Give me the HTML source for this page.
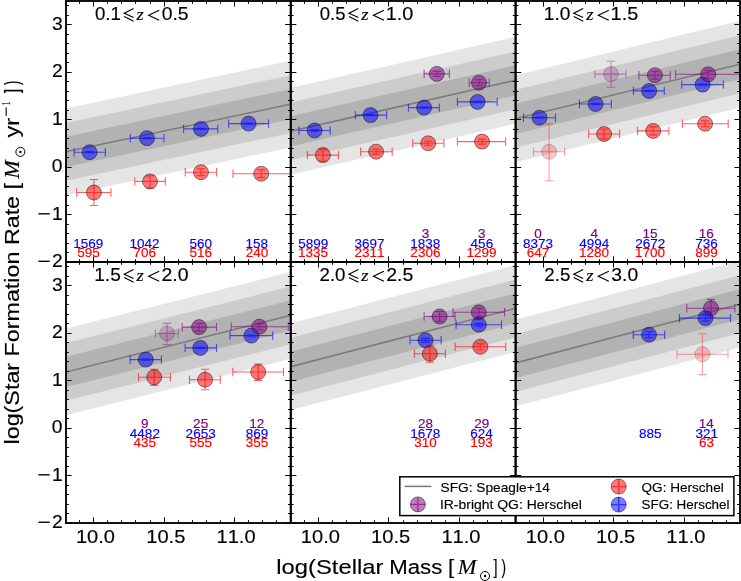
<!DOCTYPE html>
<html><head><meta charset="utf-8"><style>
html,body{margin:0;padding:0;background:#fff;width:741px;height:581px;overflow:hidden}
svg{display:block;font-kerning:none;will-change:transform}
</style></head><body>
<svg width="741" height="581" viewBox="0 0 741 581">
<rect width="741" height="581" fill="#fff"/>
<defs>
<clipPath id="cp00"><rect x="66.00" y="1.00" width="224.75" height="261.00"/></clipPath>
<clipPath id="cp01"><rect x="290.75" y="1.00" width="224.85" height="261.00"/></clipPath>
<clipPath id="cp02"><rect x="515.60" y="1.00" width="224.40" height="261.00"/></clipPath>
<clipPath id="cp10"><rect x="66.00" y="262.00" width="224.75" height="261.00"/></clipPath>
<clipPath id="cp11"><rect x="290.75" y="262.00" width="224.85" height="261.00"/></clipPath>
<clipPath id="cp12"><rect x="515.60" y="262.00" width="224.40" height="261.00"/></clipPath>
</defs>
<g clip-path="url(#cp00)">
<polygon points="63.00,109.04 293.75,60.06 293.75,146.86 63.00,195.84" fill="rgb(229,229,229)"/>
<polygon points="63.00,123.54 293.75,74.56 293.75,132.36 63.00,181.34" fill="rgb(204,204,204)"/>
<polygon points="63.00,137.34 293.75,88.36 293.75,118.56 63.00,167.54" fill="rgb(178,178,178)"/>
<line x1="63.00" y1="152.44" x2="293.75" y2="103.46" stroke="#7a7a7a" stroke-width="1.5"/>
<path d="M74.10 152.20H105.30M89.60 151.60V152.80M74.10 148.00V156.40M105.30 148.00V156.40M85.40 151.60H93.80M85.40 152.80H93.80" stroke="rgb(0,0,255)" stroke-width="1.10" fill="none" opacity="0.620"/><circle cx="89.60" cy="152.20" r="7.50" fill="rgb(0,0,255)" fill-opacity="0.530" stroke="#000" stroke-width="1.0" stroke-opacity="0.451"/>
<path d="M130.30 138.20H164.00M147.00 137.60V138.80M130.30 134.00V142.40M164.00 134.00V142.40M142.80 137.60H151.20M142.80 138.80H151.20" stroke="rgb(0,0,255)" stroke-width="1.10" fill="none" opacity="0.620"/><circle cx="147.00" cy="138.20" r="7.50" fill="rgb(0,0,255)" fill-opacity="0.530" stroke="#000" stroke-width="1.0" stroke-opacity="0.451"/>
<path d="M183.60 128.90H217.80M201.00 128.30V129.50M183.60 124.70V133.10M217.80 124.70V133.10M196.80 128.30H205.20M196.80 129.50H205.20" stroke="rgb(0,0,255)" stroke-width="1.10" fill="none" opacity="0.620"/><circle cx="201.00" cy="128.90" r="7.50" fill="rgb(0,0,255)" fill-opacity="0.530" stroke="#000" stroke-width="1.0" stroke-opacity="0.451"/>
<path d="M228.70 123.60H268.60M248.60 123.00V124.20M228.70 119.40V127.80M268.60 119.40V127.80M244.40 123.00H252.80M244.40 124.20H252.80" stroke="rgb(0,0,255)" stroke-width="1.10" fill="none" opacity="0.620"/><circle cx="248.60" cy="123.60" r="7.50" fill="rgb(0,0,255)" fill-opacity="0.530" stroke="#000" stroke-width="1.0" stroke-opacity="0.451"/>
<path d="M76.70 192.50H110.90M93.90 179.50V205.50M76.70 188.30V196.70M110.90 188.30V196.70M89.70 179.50H98.10M89.70 205.50H98.10" stroke="rgb(255,0,0)" stroke-width="1.10" fill="none" opacity="0.620"/><circle cx="93.90" cy="192.50" r="7.50" fill="rgb(255,0,0)" fill-opacity="0.530" stroke="#000" stroke-width="1.0" stroke-opacity="0.451"/>
<path d="M134.70 181.40H165.30M150.00 175.70V188.00M134.70 177.20V185.60M165.30 177.20V185.60M145.80 175.70H154.20M145.80 188.00H154.20" stroke="rgb(255,0,0)" stroke-width="1.10" fill="none" opacity="0.620"/><circle cx="150.00" cy="181.40" r="7.50" fill="rgb(255,0,0)" fill-opacity="0.530" stroke="#000" stroke-width="1.0" stroke-opacity="0.451"/>
<path d="M185.30 172.20H216.60M201.00 168.80V175.60M185.30 168.00V176.40M216.60 168.00V176.40M196.80 168.80H205.20M196.80 175.60H205.20" stroke="rgb(255,0,0)" stroke-width="1.10" fill="none" opacity="0.620"/><circle cx="201.00" cy="172.20" r="7.50" fill="rgb(255,0,0)" fill-opacity="0.530" stroke="#000" stroke-width="1.0" stroke-opacity="0.451"/>
<path d="M233.00 173.70H293.00M261.20 169.80V177.60M233.00 169.50V177.90M293.00 169.50V177.90M257.00 169.80H265.40M257.00 177.60H265.40" stroke="rgb(255,0,0)" stroke-width="1.10" fill="none" opacity="0.620"/><circle cx="261.20" cy="173.70" r="7.50" fill="rgb(255,0,0)" fill-opacity="0.530" stroke="#000" stroke-width="1.0" stroke-opacity="0.451"/>
</g>
<g clip-path="url(#cp01)">
<polygon points="287.75,88.48 518.50,36.22 518.50,123.02 287.75,175.28" fill="rgb(229,229,229)"/>
<polygon points="287.75,102.98 518.50,50.72 518.50,108.52 287.75,160.78" fill="rgb(204,204,204)"/>
<polygon points="287.75,116.78 518.50,64.52 518.50,94.72 287.75,146.98" fill="rgb(178,178,178)"/>
<line x1="287.75" y1="131.88" x2="518.50" y2="79.62" stroke="#7a7a7a" stroke-width="1.5"/>
<path d="M298.90 130.50H330.20M314.60 129.90V131.10M298.90 126.30V134.70M330.20 126.30V134.70M310.40 129.90H318.80M310.40 131.10H318.80" stroke="rgb(0,0,255)" stroke-width="1.10" fill="none" opacity="0.620"/><circle cx="314.60" cy="130.50" r="7.50" fill="rgb(0,0,255)" fill-opacity="0.530" stroke="#000" stroke-width="1.0" stroke-opacity="0.451"/>
<path d="M355.30 115.10H386.60M370.50 114.50V115.70M355.30 110.90V119.30M386.60 110.90V119.30M366.30 114.50H374.70M366.30 115.70H374.70" stroke="rgb(0,0,255)" stroke-width="1.10" fill="none" opacity="0.620"/><circle cx="370.50" cy="115.10" r="7.50" fill="rgb(0,0,255)" fill-opacity="0.530" stroke="#000" stroke-width="1.0" stroke-opacity="0.451"/>
<path d="M408.40 107.60H439.30M424.10 107.00V108.20M408.40 103.40V111.80M439.30 103.40V111.80M419.90 107.00H428.30M419.90 108.20H428.30" stroke="rgb(0,0,255)" stroke-width="1.10" fill="none" opacity="0.620"/><circle cx="424.10" cy="107.60" r="7.50" fill="rgb(0,0,255)" fill-opacity="0.530" stroke="#000" stroke-width="1.0" stroke-opacity="0.451"/>
<path d="M457.40 101.90H497.20M477.60 101.30V102.50M457.40 97.70V106.10M497.20 97.70V106.10M473.40 101.30H481.80M473.40 102.50H481.80" stroke="rgb(0,0,255)" stroke-width="1.10" fill="none" opacity="0.620"/><circle cx="477.60" cy="101.90" r="7.50" fill="rgb(0,0,255)" fill-opacity="0.530" stroke="#000" stroke-width="1.0" stroke-opacity="0.451"/>
<path d="M307.40 155.10H338.50M322.90 149.10V161.10M307.40 150.90V159.30M338.50 150.90V159.30M318.70 149.10H327.10M318.70 161.10H327.10" stroke="rgb(255,0,0)" stroke-width="1.10" fill="none" opacity="0.620"/><circle cx="322.90" cy="155.10" r="7.50" fill="rgb(255,0,0)" fill-opacity="0.530" stroke="#000" stroke-width="1.0" stroke-opacity="0.451"/>
<path d="M360.60 151.70H392.20M376.10 149.20V154.20M360.60 147.50V155.90M392.20 147.50V155.90M371.90 149.20H380.30M371.90 154.20H380.30" stroke="rgb(255,0,0)" stroke-width="1.10" fill="none" opacity="0.620"/><circle cx="376.10" cy="151.70" r="7.50" fill="rgb(255,0,0)" fill-opacity="0.530" stroke="#000" stroke-width="1.0" stroke-opacity="0.451"/>
<path d="M412.80 143.30H443.90M428.20 141.30V145.30M412.80 139.10V147.50M443.90 139.10V147.50M424.00 141.30H432.40M424.00 145.30H432.40" stroke="rgb(255,0,0)" stroke-width="1.10" fill="none" opacity="0.620"/><circle cx="428.20" cy="143.30" r="7.50" fill="rgb(255,0,0)" fill-opacity="0.530" stroke="#000" stroke-width="1.0" stroke-opacity="0.451"/>
<path d="M457.40 141.60H505.60M482.00 139.10V144.10M457.40 137.40V145.80M505.60 137.40V145.80M477.80 139.10H486.20M477.80 144.10H486.20" stroke="rgb(255,0,0)" stroke-width="1.10" fill="none" opacity="0.620"/><circle cx="482.00" cy="141.60" r="7.50" fill="rgb(255,0,0)" fill-opacity="0.530" stroke="#000" stroke-width="1.0" stroke-opacity="0.451"/>
<path d="M424.10 73.90H449.40M436.80 71.40V76.40M424.10 69.70V78.10M449.40 69.70V78.10M432.60 71.40H441.00M432.60 76.40H441.00" stroke="rgb(128,0,128)" stroke-width="1.10" fill="none" opacity="0.620"/><circle cx="436.80" cy="73.90" r="7.50" fill="rgb(128,0,128)" fill-opacity="0.530" stroke="#000" stroke-width="1.0" stroke-opacity="0.451"/>
<path d="M469.20 82.70H489.20M479.00 79.70V85.70M469.20 78.50V86.90M489.20 78.50V86.90M474.80 79.70H483.20M474.80 85.70H483.20" stroke="rgb(128,0,128)" stroke-width="1.10" fill="none" opacity="0.620"/><circle cx="479.00" cy="82.70" r="7.50" fill="rgb(128,0,128)" fill-opacity="0.530" stroke="#000" stroke-width="1.0" stroke-opacity="0.451"/>
</g>
<g clip-path="url(#cp02)">
<polygon points="512.50,76.03 743.25,20.07 743.25,106.87 512.50,162.83" fill="rgb(229,229,229)"/>
<polygon points="512.50,90.53 743.25,34.57 743.25,92.37 512.50,148.33" fill="rgb(204,204,204)"/>
<polygon points="512.50,104.33 743.25,48.37 743.25,78.57 512.50,134.53" fill="rgb(178,178,178)"/>
<line x1="512.50" y1="119.43" x2="743.25" y2="63.47" stroke="#7a7a7a" stroke-width="1.5"/>
<path d="M523.50 117.70H555.50M539.50 117.10V118.30M523.50 113.50V121.90M555.50 113.50V121.90M535.30 117.10H543.70M535.30 118.30H543.70" stroke="rgb(0,0,255)" stroke-width="1.10" fill="none" opacity="0.620"/><circle cx="539.50" cy="117.70" r="7.50" fill="rgb(0,0,255)" fill-opacity="0.530" stroke="#000" stroke-width="1.0" stroke-opacity="0.451"/>
<path d="M579.50 104.00H611.30M595.60 103.40V104.60M579.50 99.80V108.20M611.30 99.80V108.20M591.40 103.40H599.80M591.40 104.60H599.80" stroke="rgb(0,0,255)" stroke-width="1.10" fill="none" opacity="0.620"/><circle cx="595.60" cy="104.00" r="7.50" fill="rgb(0,0,255)" fill-opacity="0.530" stroke="#000" stroke-width="1.0" stroke-opacity="0.451"/>
<path d="M633.40 90.90H664.30M649.10 90.30V91.50M633.40 86.70V95.10M664.30 86.70V95.10M644.90 90.30H653.30M644.90 91.50H653.30" stroke="rgb(0,0,255)" stroke-width="1.10" fill="none" opacity="0.620"/><circle cx="649.10" cy="90.90" r="7.50" fill="rgb(0,0,255)" fill-opacity="0.530" stroke="#000" stroke-width="1.0" stroke-opacity="0.451"/>
<path d="M681.70 84.60H723.40M702.60 84.00V85.20M681.70 80.40V88.80M723.40 80.40V88.80M698.40 84.00H706.80M698.40 85.20H706.80" stroke="rgb(0,0,255)" stroke-width="1.10" fill="none" opacity="0.620"/><circle cx="702.60" cy="84.60" r="7.50" fill="rgb(0,0,255)" fill-opacity="0.530" stroke="#000" stroke-width="1.0" stroke-opacity="0.451"/>
<path d="M533.60 151.80H564.60M549.10 123.90V180.70M533.60 147.60V156.00M564.60 147.60V156.00M544.90 123.90H553.30M544.90 180.70H553.30" stroke="rgb(255,0,0)" stroke-width="1.10" fill="none" opacity="0.380"/><circle cx="549.10" cy="151.80" r="7.50" fill="rgb(255,0,0)" fill-opacity="0.220" stroke="#000" stroke-width="1.0" stroke-opacity="0.187"/>
<path d="M588.60 134.00H619.60M604.10 129.00V139.00M588.60 129.80V138.20M619.60 129.80V138.20M599.90 129.00H608.30M599.90 139.00H608.30" stroke="rgb(255,0,0)" stroke-width="1.10" fill="none" opacity="0.620"/><circle cx="604.10" cy="134.00" r="7.50" fill="rgb(255,0,0)" fill-opacity="0.530" stroke="#000" stroke-width="1.0" stroke-opacity="0.451"/>
<path d="M637.50 130.90H668.90M653.20 126.90V134.90M637.50 126.70V135.10M668.90 126.70V135.10M649.00 126.90H657.40M649.00 134.90H657.40" stroke="rgb(255,0,0)" stroke-width="1.10" fill="none" opacity="0.620"/><circle cx="653.20" cy="130.90" r="7.50" fill="rgb(255,0,0)" fill-opacity="0.530" stroke="#000" stroke-width="1.0" stroke-opacity="0.451"/>
<path d="M682.40 123.70H728.20M705.10 120.70V126.70M682.40 119.50V127.90M728.20 119.50V127.90M700.90 120.70H709.30M700.90 126.70H709.30" stroke="rgb(255,0,0)" stroke-width="1.10" fill="none" opacity="0.620"/><circle cx="705.10" cy="123.70" r="7.50" fill="rgb(255,0,0)" fill-opacity="0.530" stroke="#000" stroke-width="1.0" stroke-opacity="0.451"/>
<path d="M595.00 74.10H626.00M611.00 61.20V87.20M595.00 69.90V78.30M626.00 69.90V78.30M606.80 61.20H615.20M606.80 87.20H615.20" stroke="rgb(128,0,128)" stroke-width="1.10" fill="none" opacity="0.380"/><circle cx="611.00" cy="74.10" r="7.50" fill="rgb(128,0,128)" fill-opacity="0.220" stroke="#000" stroke-width="1.0" stroke-opacity="0.187"/>
<path d="M639.00 75.20H670.30M654.90 71.20V79.20M639.00 71.00V79.40M670.30 71.00V79.40M650.70 71.20H659.10M650.70 79.20H659.10" stroke="rgb(128,0,128)" stroke-width="1.10" fill="none" opacity="0.620"/><circle cx="654.90" cy="75.20" r="7.50" fill="rgb(128,0,128)" fill-opacity="0.530" stroke="#000" stroke-width="1.0" stroke-opacity="0.451"/>
<path d="M675.60 74.30H745.00M708.20 70.30V78.30M675.60 70.10V78.50M745.00 70.10V78.50M704.00 70.30H712.40M704.00 78.30H712.40" stroke="rgb(128,0,128)" stroke-width="1.10" fill="none" opacity="0.620"/><circle cx="708.20" cy="74.30" r="7.50" fill="rgb(128,0,128)" fill-opacity="0.530" stroke="#000" stroke-width="1.0" stroke-opacity="0.451"/>
</g>
<g clip-path="url(#cp10)">
<polygon points="63.00,329.26 293.75,271.14 293.75,357.94 63.00,416.06" fill="rgb(229,229,229)"/>
<polygon points="63.00,343.76 293.75,285.64 293.75,343.44 63.00,401.56" fill="rgb(204,204,204)"/>
<polygon points="63.00,357.56 293.75,299.44 293.75,329.64 63.00,387.76" fill="rgb(178,178,178)"/>
<line x1="63.00" y1="372.66" x2="293.75" y2="314.54" stroke="#7a7a7a" stroke-width="1.5"/>
<path d="M130.10 359.60H161.40M145.80 359.00V360.20M130.10 355.40V363.80M161.40 355.40V363.80M141.60 359.00H150.00M141.60 360.20H150.00" stroke="rgb(0,0,255)" stroke-width="1.10" fill="none" opacity="0.620"/><circle cx="145.80" cy="359.60" r="7.50" fill="rgb(0,0,255)" fill-opacity="0.530" stroke="#000" stroke-width="1.0" stroke-opacity="0.451"/>
<path d="M185.10 347.90H216.50M200.30 347.30V348.50M185.10 343.70V352.10M216.50 343.70V352.10M196.10 347.30H204.50M196.10 348.50H204.50" stroke="rgb(0,0,255)" stroke-width="1.10" fill="none" opacity="0.620"/><circle cx="200.30" cy="347.90" r="7.50" fill="rgb(0,0,255)" fill-opacity="0.530" stroke="#000" stroke-width="1.0" stroke-opacity="0.451"/>
<path d="M230.00 335.60H272.70M251.40 335.00V336.20M230.00 331.40V339.80M272.70 331.40V339.80M247.20 335.00H255.60M247.20 336.20H255.60" stroke="rgb(0,0,255)" stroke-width="1.10" fill="none" opacity="0.620"/><circle cx="251.40" cy="335.60" r="7.50" fill="rgb(0,0,255)" fill-opacity="0.530" stroke="#000" stroke-width="1.0" stroke-opacity="0.451"/>
<path d="M138.50 377.20H170.40M154.20 369.20V385.40M138.50 373.00V381.40M170.40 373.00V381.40M150.00 369.20H158.40M150.00 385.40H158.40" stroke="rgb(255,0,0)" stroke-width="1.10" fill="none" opacity="0.620"/><circle cx="154.20" cy="377.20" r="7.50" fill="rgb(255,0,0)" fill-opacity="0.530" stroke="#000" stroke-width="1.0" stroke-opacity="0.451"/>
<path d="M189.50 379.70H220.30M205.10 369.30V389.80M189.50 375.50V383.90M220.30 375.50V383.90M200.90 369.30H209.30M200.90 389.80H209.30" stroke="rgb(255,0,0)" stroke-width="1.10" fill="none" opacity="0.620"/><circle cx="205.10" cy="379.70" r="7.50" fill="rgb(255,0,0)" fill-opacity="0.530" stroke="#000" stroke-width="1.0" stroke-opacity="0.451"/>
<path d="M232.90 372.00H283.50M258.20 364.00V380.40M232.90 367.80V376.20M283.50 367.80V376.20M254.00 364.00H262.40M254.00 380.40H262.40" stroke="rgb(255,0,0)" stroke-width="1.10" fill="none" opacity="0.620"/><circle cx="258.20" cy="372.00" r="7.50" fill="rgb(255,0,0)" fill-opacity="0.530" stroke="#000" stroke-width="1.0" stroke-opacity="0.451"/>
<path d="M155.40 333.50H178.30M167.00 323.40V344.60M155.40 329.30V337.70M178.30 329.30V337.70M162.80 323.40H171.20M162.80 344.60H171.20" stroke="rgb(128,0,128)" stroke-width="1.10" fill="none" opacity="0.380"/><circle cx="167.00" cy="333.50" r="7.50" fill="rgb(128,0,128)" fill-opacity="0.220" stroke="#000" stroke-width="1.0" stroke-opacity="0.187"/>
<path d="M182.20 327.10H216.50M199.10 323.10V331.10M182.20 322.90V331.30M216.50 322.90V331.30M194.90 323.10H203.30M194.90 331.10H203.30" stroke="rgb(128,0,128)" stroke-width="1.10" fill="none" opacity="0.620"/><circle cx="199.10" cy="327.10" r="7.50" fill="rgb(128,0,128)" fill-opacity="0.530" stroke="#000" stroke-width="1.0" stroke-opacity="0.451"/>
<path d="M231.20 326.70H288.30M259.40 323.70V329.70M231.20 322.50V330.90M288.30 322.50V330.90M255.20 323.70H263.60M255.20 329.70H263.60" stroke="rgb(128,0,128)" stroke-width="1.10" fill="none" opacity="0.620"/><circle cx="259.40" cy="326.70" r="7.50" fill="rgb(128,0,128)" fill-opacity="0.530" stroke="#000" stroke-width="1.0" stroke-opacity="0.451"/>
</g>
<g clip-path="url(#cp11)">
<polygon points="287.75,324.08 518.50,264.22 518.50,351.02 287.75,410.88" fill="rgb(229,229,229)"/>
<polygon points="287.75,338.58 518.50,278.72 518.50,336.52 287.75,396.38" fill="rgb(204,204,204)"/>
<polygon points="287.75,352.38 518.50,292.52 518.50,322.72 287.75,382.58" fill="rgb(178,178,178)"/>
<line x1="287.75" y1="367.48" x2="518.50" y2="307.62" stroke="#7a7a7a" stroke-width="1.5"/>
<path d="M424.10 316.50H455.10M439.60 311.50V321.50M424.10 312.30V320.70M455.10 312.30V320.70M435.40 311.50H443.80M435.40 321.50H443.80" stroke="rgb(128,0,128)" stroke-width="1.10" fill="none" opacity="0.620"/><circle cx="439.60" cy="316.50" r="7.50" fill="rgb(128,0,128)" fill-opacity="0.530" stroke="#000" stroke-width="1.0" stroke-opacity="0.451"/>
<path d="M453.00 312.30H504.60M478.80 308.30V316.30M453.00 308.10V316.50M504.60 308.10V316.50M474.60 308.30H483.00M474.60 316.30H483.00" stroke="rgb(128,0,128)" stroke-width="1.10" fill="none" opacity="0.620"/><circle cx="478.80" cy="312.30" r="7.50" fill="rgb(128,0,128)" fill-opacity="0.530" stroke="#000" stroke-width="1.0" stroke-opacity="0.451"/>
<path d="M410.00 340.20H441.20M425.50 338.20V342.20M410.00 336.00V344.40M441.20 336.00V344.40M421.30 338.20H429.70M421.30 342.20H429.70" stroke="rgb(0,0,255)" stroke-width="1.10" fill="none" opacity="0.620"/><circle cx="425.50" cy="340.20" r="7.50" fill="rgb(0,0,255)" fill-opacity="0.530" stroke="#000" stroke-width="1.0" stroke-opacity="0.451"/>
<path d="M456.10 324.70H501.50M478.80 323.20V326.20M456.10 320.50V328.90M501.50 320.50V328.90M474.60 323.20H483.00M474.60 326.20H483.00" stroke="rgb(0,0,255)" stroke-width="1.10" fill="none" opacity="0.620"/><circle cx="478.80" cy="324.70" r="7.50" fill="rgb(0,0,255)" fill-opacity="0.530" stroke="#000" stroke-width="1.0" stroke-opacity="0.451"/>
<path d="M414.40 353.70H445.40M429.90 345.40V362.30M414.40 349.50V357.90M445.40 349.50V357.90M425.70 345.40H434.10M425.70 362.30H434.10" stroke="rgb(255,0,0)" stroke-width="1.10" fill="none" opacity="0.620"/><circle cx="429.90" cy="353.70" r="7.50" fill="rgb(255,0,0)" fill-opacity="0.530" stroke="#000" stroke-width="1.0" stroke-opacity="0.451"/>
<path d="M455.10 346.80H505.70M480.30 343.80V349.80M455.10 342.60V351.00M505.70 342.60V351.00M476.10 343.80H484.50M476.10 349.80H484.50" stroke="rgb(255,0,0)" stroke-width="1.10" fill="none" opacity="0.620"/><circle cx="480.30" cy="346.80" r="7.50" fill="rgb(255,0,0)" fill-opacity="0.530" stroke="#000" stroke-width="1.0" stroke-opacity="0.451"/>
</g>
<g clip-path="url(#cp12)">
<polygon points="512.50,320.39 743.25,259.91 743.25,346.71 512.50,407.19" fill="rgb(229,229,229)"/>
<polygon points="512.50,334.89 743.25,274.41 743.25,332.21 512.50,392.69" fill="rgb(204,204,204)"/>
<polygon points="512.50,348.69 743.25,288.21 743.25,318.41 512.50,378.89" fill="rgb(178,178,178)"/>
<line x1="512.50" y1="363.79" x2="743.25" y2="303.31" stroke="#7a7a7a" stroke-width="1.5"/>
<path d="M686.80 308.20H734.90M711.00 299.40V317.00M686.80 304.00V312.40M734.90 304.00V312.40M706.80 299.40H715.20M706.80 317.00H715.20" stroke="rgb(128,0,128)" stroke-width="1.10" fill="none" opacity="0.620"/><circle cx="711.00" cy="308.20" r="7.50" fill="rgb(128,0,128)" fill-opacity="0.530" stroke="#000" stroke-width="1.0" stroke-opacity="0.451"/>
<path d="M633.20 334.70H664.70M649.00 331.70V337.70M633.20 330.50V338.90M664.70 330.50V338.90M644.80 331.70H653.20M644.80 337.70H653.20" stroke="rgb(0,0,255)" stroke-width="1.10" fill="none" opacity="0.620"/><circle cx="649.00" cy="334.70" r="7.50" fill="rgb(0,0,255)" fill-opacity="0.530" stroke="#000" stroke-width="1.0" stroke-opacity="0.451"/>
<path d="M679.40 318.10H730.50M705.40 315.10V321.10M679.40 313.90V322.30M730.50 313.90V322.30M701.20 315.10H709.60M701.20 321.10H709.60" stroke="rgb(0,0,255)" stroke-width="1.10" fill="none" opacity="0.620"/><circle cx="705.40" cy="318.10" r="7.50" fill="rgb(0,0,255)" fill-opacity="0.530" stroke="#000" stroke-width="1.0" stroke-opacity="0.451"/>
<path d="M677.00 354.20H728.00M702.40 333.70V374.60M677.00 350.00V358.40M728.00 350.00V358.40M698.20 333.70H706.60M698.20 374.60H706.60" stroke="rgb(255,0,0)" stroke-width="1.10" fill="none" opacity="0.380"/><circle cx="702.40" cy="354.20" r="7.50" fill="rgb(255,0,0)" fill-opacity="0.220" stroke="#000" stroke-width="1.0" stroke-opacity="0.187"/>
</g>
<path d="M66.00 262.50h5.60M290.75 262.50h-5.60M66.00 252.50h2.80M290.75 252.50h-2.80M66.00 243.50h2.80M290.75 243.50h-2.80M66.00 233.50h2.80M290.75 233.50h-2.80M66.00 224.50h2.80M290.75 224.50h-2.80M66.00 214.50h5.60M290.75 214.50h-5.60M66.00 205.50h2.80M290.75 205.50h-2.80M66.00 195.50h2.80M290.75 195.50h-2.80M66.00 186.50h2.80M290.75 186.50h-2.80M66.00 176.50h2.80M290.75 176.50h-2.80M66.00 167.50h5.60M290.75 167.50h-5.60M66.00 157.50h2.80M290.75 157.50h-2.80M66.00 148.50h2.80M290.75 148.50h-2.80M66.00 138.50h2.80M290.75 138.50h-2.80M66.00 129.50h2.80M290.75 129.50h-2.80M66.00 119.50h5.60M290.75 119.50h-5.60M66.00 110.50h2.80M290.75 110.50h-2.80M66.00 100.50h2.80M290.75 100.50h-2.80M66.00 91.50h2.80M290.75 91.50h-2.80M66.00 81.50h2.80M290.75 81.50h-2.80M66.00 72.50h5.60M290.75 72.50h-5.60M66.00 62.50h2.80M290.75 62.50h-2.80M66.00 53.50h2.80M290.75 53.50h-2.80M66.00 43.50h2.80M290.75 43.50h-2.80M66.00 34.50h2.80M290.75 34.50h-2.80M66.00 24.50h5.60M290.75 24.50h-5.60M66.00 15.50h2.80M290.75 15.50h-2.80M66.00 5.50h2.80M290.75 5.50h-2.80M65.50 1.00v2.80M65.50 262.00v-2.80M79.50 1.00v2.80M79.50 262.00v-2.80M93.50 1.00v5.60M93.50 262.00v-5.60M107.50 1.00v2.80M107.50 262.00v-2.80M121.50 1.00v2.80M121.50 262.00v-2.80M135.50 1.00v2.80M135.50 262.00v-2.80M150.50 1.00v2.80M150.50 262.00v-2.80M164.50 1.00v5.60M164.50 262.00v-5.60M178.50 1.00v2.80M178.50 262.00v-2.80M192.50 1.00v2.80M192.50 262.00v-2.80M206.50 1.00v2.80M206.50 262.00v-2.80M220.50 1.00v2.80M220.50 262.00v-2.80M234.50 1.00v5.60M234.50 262.00v-5.60M248.50 1.00v2.80M248.50 262.00v-2.80M262.50 1.00v2.80M262.50 262.00v-2.80M276.50 1.00v2.80M276.50 262.00v-2.80M290.50 1.00v2.80M290.50 262.00v-2.80M290.75 262.50h5.60M515.60 262.50h-5.60M290.75 252.50h2.80M515.60 252.50h-2.80M290.75 243.50h2.80M515.60 243.50h-2.80M290.75 233.50h2.80M515.60 233.50h-2.80M290.75 224.50h2.80M515.60 224.50h-2.80M290.75 214.50h5.60M515.60 214.50h-5.60M290.75 205.50h2.80M515.60 205.50h-2.80M290.75 195.50h2.80M515.60 195.50h-2.80M290.75 186.50h2.80M515.60 186.50h-2.80M290.75 176.50h2.80M515.60 176.50h-2.80M290.75 167.50h5.60M515.60 167.50h-5.60M290.75 157.50h2.80M515.60 157.50h-2.80M290.75 148.50h2.80M515.60 148.50h-2.80M290.75 138.50h2.80M515.60 138.50h-2.80M290.75 129.50h2.80M515.60 129.50h-2.80M290.75 119.50h5.60M515.60 119.50h-5.60M290.75 110.50h2.80M515.60 110.50h-2.80M290.75 100.50h2.80M515.60 100.50h-2.80M290.75 91.50h2.80M515.60 91.50h-2.80M290.75 81.50h2.80M515.60 81.50h-2.80M290.75 72.50h5.60M515.60 72.50h-5.60M290.75 62.50h2.80M515.60 62.50h-2.80M290.75 53.50h2.80M515.60 53.50h-2.80M290.75 43.50h2.80M515.60 43.50h-2.80M290.75 34.50h2.80M515.60 34.50h-2.80M290.75 24.50h5.60M515.60 24.50h-5.60M290.75 15.50h2.80M515.60 15.50h-2.80M290.75 5.50h2.80M515.60 5.50h-2.80M290.50 1.00v2.80M290.50 262.00v-2.80M304.50 1.00v2.80M304.50 262.00v-2.80M318.50 1.00v5.60M318.50 262.00v-5.60M332.50 1.00v2.80M332.50 262.00v-2.80M346.50 1.00v2.80M346.50 262.00v-2.80M360.50 1.00v2.80M360.50 262.00v-2.80M374.50 1.00v2.80M374.50 262.00v-2.80M388.50 1.00v5.60M388.50 262.00v-5.60M403.50 1.00v2.80M403.50 262.00v-2.80M417.50 1.00v2.80M417.50 262.00v-2.80M431.50 1.00v2.80M431.50 262.00v-2.80M445.50 1.00v2.80M445.50 262.00v-2.80M459.50 1.00v5.60M459.50 262.00v-5.60M473.50 1.00v2.80M473.50 262.00v-2.80M487.50 1.00v2.80M487.50 262.00v-2.80M501.50 1.00v2.80M501.50 262.00v-2.80M515.50 1.00v2.80M515.50 262.00v-2.80M515.60 262.50h5.60M740.00 262.50h-5.60M515.60 252.50h2.80M740.00 252.50h-2.80M515.60 243.50h2.80M740.00 243.50h-2.80M515.60 233.50h2.80M740.00 233.50h-2.80M515.60 224.50h2.80M740.00 224.50h-2.80M515.60 214.50h5.60M740.00 214.50h-5.60M515.60 205.50h2.80M740.00 205.50h-2.80M515.60 195.50h2.80M740.00 195.50h-2.80M515.60 186.50h2.80M740.00 186.50h-2.80M515.60 176.50h2.80M740.00 176.50h-2.80M515.60 167.50h5.60M740.00 167.50h-5.60M515.60 157.50h2.80M740.00 157.50h-2.80M515.60 148.50h2.80M740.00 148.50h-2.80M515.60 138.50h2.80M740.00 138.50h-2.80M515.60 129.50h2.80M740.00 129.50h-2.80M515.60 119.50h5.60M740.00 119.50h-5.60M515.60 110.50h2.80M740.00 110.50h-2.80M515.60 100.50h2.80M740.00 100.50h-2.80M515.60 91.50h2.80M740.00 91.50h-2.80M515.60 81.50h2.80M740.00 81.50h-2.80M515.60 72.50h5.60M740.00 72.50h-5.60M515.60 62.50h2.80M740.00 62.50h-2.80M515.60 53.50h2.80M740.00 53.50h-2.80M515.60 43.50h2.80M740.00 43.50h-2.80M515.60 34.50h2.80M740.00 34.50h-2.80M515.60 24.50h5.60M740.00 24.50h-5.60M515.60 15.50h2.80M740.00 15.50h-2.80M515.60 5.50h2.80M740.00 5.50h-2.80M515.50 1.00v2.80M515.50 262.00v-2.80M529.50 1.00v2.80M529.50 262.00v-2.80M543.50 1.00v5.60M543.50 262.00v-5.60M557.50 1.00v2.80M557.50 262.00v-2.80M571.50 1.00v2.80M571.50 262.00v-2.80M585.50 1.00v2.80M585.50 262.00v-2.80M599.50 1.00v2.80M599.50 262.00v-2.80M613.50 1.00v5.60M613.50 262.00v-5.60M627.50 1.00v2.80M627.50 262.00v-2.80M642.50 1.00v2.80M642.50 262.00v-2.80M656.50 1.00v2.80M656.50 262.00v-2.80M670.50 1.00v2.80M670.50 262.00v-2.80M684.50 1.00v5.60M684.50 262.00v-5.60M698.50 1.00v2.80M698.50 262.00v-2.80M712.50 1.00v2.80M712.50 262.00v-2.80M726.50 1.00v2.80M726.50 262.00v-2.80M740.50 1.00v2.80M740.50 262.00v-2.80M66.00 523.50h5.60M290.75 523.50h-5.60M66.00 513.50h2.80M290.75 513.50h-2.80M66.00 504.50h2.80M290.75 504.50h-2.80M66.00 494.50h2.80M290.75 494.50h-2.80M66.00 485.50h2.80M290.75 485.50h-2.80M66.00 475.50h5.60M290.75 475.50h-5.60M66.00 466.50h2.80M290.75 466.50h-2.80M66.00 456.50h2.80M290.75 456.50h-2.80M66.00 447.50h2.80M290.75 447.50h-2.80M66.00 437.50h2.80M290.75 437.50h-2.80M66.00 428.50h5.60M290.75 428.50h-5.60M66.00 418.50h2.80M290.75 418.50h-2.80M66.00 409.50h2.80M290.75 409.50h-2.80M66.00 399.50h2.80M290.75 399.50h-2.80M66.00 390.50h2.80M290.75 390.50h-2.80M66.00 380.50h5.60M290.75 380.50h-5.60M66.00 371.50h2.80M290.75 371.50h-2.80M66.00 361.50h2.80M290.75 361.50h-2.80M66.00 352.50h2.80M290.75 352.50h-2.80M66.00 342.50h2.80M290.75 342.50h-2.80M66.00 333.50h5.60M290.75 333.50h-5.60M66.00 323.50h2.80M290.75 323.50h-2.80M66.00 314.50h2.80M290.75 314.50h-2.80M66.00 304.50h2.80M290.75 304.50h-2.80M66.00 295.50h2.80M290.75 295.50h-2.80M66.00 285.50h5.60M290.75 285.50h-5.60M66.00 276.50h2.80M290.75 276.50h-2.80M66.00 266.50h2.80M290.75 266.50h-2.80M65.50 262.00v2.80M65.50 523.00v-2.80M79.50 262.00v2.80M79.50 523.00v-2.80M93.50 262.00v5.60M93.50 523.00v-5.60M107.50 262.00v2.80M107.50 523.00v-2.80M121.50 262.00v2.80M121.50 523.00v-2.80M135.50 262.00v2.80M135.50 523.00v-2.80M150.50 262.00v2.80M150.50 523.00v-2.80M164.50 262.00v5.60M164.50 523.00v-5.60M178.50 262.00v2.80M178.50 523.00v-2.80M192.50 262.00v2.80M192.50 523.00v-2.80M206.50 262.00v2.80M206.50 523.00v-2.80M220.50 262.00v2.80M220.50 523.00v-2.80M234.50 262.00v5.60M234.50 523.00v-5.60M248.50 262.00v2.80M248.50 523.00v-2.80M262.50 262.00v2.80M262.50 523.00v-2.80M276.50 262.00v2.80M276.50 523.00v-2.80M290.50 262.00v2.80M290.50 523.00v-2.80M290.75 523.50h5.60M515.60 523.50h-5.60M290.75 513.50h2.80M515.60 513.50h-2.80M290.75 504.50h2.80M515.60 504.50h-2.80M290.75 494.50h2.80M515.60 494.50h-2.80M290.75 485.50h2.80M515.60 485.50h-2.80M290.75 475.50h5.60M515.60 475.50h-5.60M290.75 466.50h2.80M515.60 466.50h-2.80M290.75 456.50h2.80M515.60 456.50h-2.80M290.75 447.50h2.80M515.60 447.50h-2.80M290.75 437.50h2.80M515.60 437.50h-2.80M290.75 428.50h5.60M515.60 428.50h-5.60M290.75 418.50h2.80M515.60 418.50h-2.80M290.75 409.50h2.80M515.60 409.50h-2.80M290.75 399.50h2.80M515.60 399.50h-2.80M290.75 390.50h2.80M515.60 390.50h-2.80M290.75 380.50h5.60M515.60 380.50h-5.60M290.75 371.50h2.80M515.60 371.50h-2.80M290.75 361.50h2.80M515.60 361.50h-2.80M290.75 352.50h2.80M515.60 352.50h-2.80M290.75 342.50h2.80M515.60 342.50h-2.80M290.75 333.50h5.60M515.60 333.50h-5.60M290.75 323.50h2.80M515.60 323.50h-2.80M290.75 314.50h2.80M515.60 314.50h-2.80M290.75 304.50h2.80M515.60 304.50h-2.80M290.75 295.50h2.80M515.60 295.50h-2.80M290.75 285.50h5.60M515.60 285.50h-5.60M290.75 276.50h2.80M515.60 276.50h-2.80M290.75 266.50h2.80M515.60 266.50h-2.80M290.50 262.00v2.80M290.50 523.00v-2.80M304.50 262.00v2.80M304.50 523.00v-2.80M318.50 262.00v5.60M318.50 523.00v-5.60M332.50 262.00v2.80M332.50 523.00v-2.80M346.50 262.00v2.80M346.50 523.00v-2.80M360.50 262.00v2.80M360.50 523.00v-2.80M374.50 262.00v2.80M374.50 523.00v-2.80M388.50 262.00v5.60M388.50 523.00v-5.60M403.50 262.00v2.80M403.50 523.00v-2.80M417.50 262.00v2.80M417.50 523.00v-2.80M431.50 262.00v2.80M431.50 523.00v-2.80M445.50 262.00v2.80M445.50 523.00v-2.80M459.50 262.00v5.60M459.50 523.00v-5.60M473.50 262.00v2.80M473.50 523.00v-2.80M487.50 262.00v2.80M487.50 523.00v-2.80M501.50 262.00v2.80M501.50 523.00v-2.80M515.50 262.00v2.80M515.50 523.00v-2.80M515.60 523.50h5.60M740.00 523.50h-5.60M515.60 513.50h2.80M740.00 513.50h-2.80M515.60 504.50h2.80M740.00 504.50h-2.80M515.60 494.50h2.80M740.00 494.50h-2.80M515.60 485.50h2.80M740.00 485.50h-2.80M515.60 475.50h5.60M740.00 475.50h-5.60M515.60 466.50h2.80M740.00 466.50h-2.80M515.60 456.50h2.80M740.00 456.50h-2.80M515.60 447.50h2.80M740.00 447.50h-2.80M515.60 437.50h2.80M740.00 437.50h-2.80M515.60 428.50h5.60M740.00 428.50h-5.60M515.60 418.50h2.80M740.00 418.50h-2.80M515.60 409.50h2.80M740.00 409.50h-2.80M515.60 399.50h2.80M740.00 399.50h-2.80M515.60 390.50h2.80M740.00 390.50h-2.80M515.60 380.50h5.60M740.00 380.50h-5.60M515.60 371.50h2.80M740.00 371.50h-2.80M515.60 361.50h2.80M740.00 361.50h-2.80M515.60 352.50h2.80M740.00 352.50h-2.80M515.60 342.50h2.80M740.00 342.50h-2.80M515.60 333.50h5.60M740.00 333.50h-5.60M515.60 323.50h2.80M740.00 323.50h-2.80M515.60 314.50h2.80M740.00 314.50h-2.80M515.60 304.50h2.80M740.00 304.50h-2.80M515.60 295.50h2.80M740.00 295.50h-2.80M515.60 285.50h5.60M740.00 285.50h-5.60M515.60 276.50h2.80M740.00 276.50h-2.80M515.60 266.50h2.80M740.00 266.50h-2.80M515.50 262.00v2.80M515.50 523.00v-2.80M529.50 262.00v2.80M529.50 523.00v-2.80M543.50 262.00v5.60M543.50 523.00v-5.60M557.50 262.00v2.80M557.50 523.00v-2.80M571.50 262.00v2.80M571.50 523.00v-2.80M585.50 262.00v2.80M585.50 523.00v-2.80M599.50 262.00v2.80M599.50 523.00v-2.80M613.50 262.00v5.60M613.50 523.00v-5.60M627.50 262.00v2.80M627.50 523.00v-2.80M642.50 262.00v2.80M642.50 523.00v-2.80M656.50 262.00v2.80M656.50 523.00v-2.80M670.50 262.00v2.80M670.50 523.00v-2.80M684.50 262.00v5.60M684.50 523.00v-5.60M698.50 262.00v2.80M698.50 523.00v-2.80M712.50 262.00v2.80M712.50 523.00v-2.80M726.50 262.00v2.80M726.50 523.00v-2.80M740.50 262.00v2.80M740.50 523.00v-2.80" stroke="#000" stroke-width="1.0" fill="none"/>
<rect x="66.00" y="1.00" width="224.75" height="261.00" fill="none" stroke="#000" stroke-width="1.85"/>
<rect x="290.75" y="1.00" width="224.85" height="261.00" fill="none" stroke="#000" stroke-width="1.85"/>
<rect x="515.60" y="1.00" width="224.40" height="261.00" fill="none" stroke="#000" stroke-width="1.85"/>
<rect x="66.00" y="262.00" width="224.75" height="261.00" fill="none" stroke="#000" stroke-width="1.85"/>
<rect x="290.75" y="262.00" width="224.85" height="261.00" fill="none" stroke="#000" stroke-width="1.85"/>
<rect x="515.60" y="262.00" width="224.40" height="261.00" fill="none" stroke="#000" stroke-width="1.85"/>
<text transform="translate(52.07 267.30) scale(1.0400 1)" font-family='"Liberation Sans", sans-serif' font-style="normal" font-size="18.50" fill="#000" stroke="#000" stroke-width="0.15">2</text>
<rect x="38.4" y="260.60" width="11.3" height="1.35" fill="#000"/>
<text transform="translate(52.04 219.85) scale(1.0400 1)" font-family='"Liberation Sans", sans-serif' font-style="normal" font-size="18.50" fill="#000" stroke="#000" stroke-width="0.15">1</text>
<rect x="38.4" y="213.15" width="11.3" height="1.35" fill="#000"/>
<text transform="translate(51.85 172.39) scale(1.0400 1)" font-family='"Liberation Sans", sans-serif' font-style="normal" font-size="18.50" fill="#000" stroke="#000" stroke-width="0.15">0</text>
<text transform="translate(52.04 124.94) scale(1.0400 1)" font-family='"Liberation Sans", sans-serif' font-style="normal" font-size="18.50" fill="#000" stroke="#000" stroke-width="0.15">1</text>
<text transform="translate(52.07 77.48) scale(1.0400 1)" font-family='"Liberation Sans", sans-serif' font-style="normal" font-size="18.50" fill="#000" stroke="#000" stroke-width="0.15">2</text>
<text transform="translate(51.95 30.03) scale(1.0400 1)" font-family='"Liberation Sans", sans-serif' font-style="normal" font-size="18.50" fill="#000" stroke="#000" stroke-width="0.15">3</text>
<text transform="translate(52.07 528.30) scale(1.0400 1)" font-family='"Liberation Sans", sans-serif' font-style="normal" font-size="18.50" fill="#000" stroke="#000" stroke-width="0.15">2</text>
<rect x="38.4" y="521.60" width="11.3" height="1.35" fill="#000"/>
<text transform="translate(52.04 480.85) scale(1.0400 1)" font-family='"Liberation Sans", sans-serif' font-style="normal" font-size="18.50" fill="#000" stroke="#000" stroke-width="0.15">1</text>
<rect x="38.4" y="474.15" width="11.3" height="1.35" fill="#000"/>
<text transform="translate(51.85 433.39) scale(1.0400 1)" font-family='"Liberation Sans", sans-serif' font-style="normal" font-size="18.50" fill="#000" stroke="#000" stroke-width="0.15">0</text>
<text transform="translate(52.04 385.94) scale(1.0400 1)" font-family='"Liberation Sans", sans-serif' font-style="normal" font-size="18.50" fill="#000" stroke="#000" stroke-width="0.15">1</text>
<text transform="translate(52.07 338.48) scale(1.0400 1)" font-family='"Liberation Sans", sans-serif' font-style="normal" font-size="18.50" fill="#000" stroke="#000" stroke-width="0.15">2</text>
<text transform="translate(51.95 291.03) scale(1.0400 1)" font-family='"Liberation Sans", sans-serif' font-style="normal" font-size="18.50" fill="#000" stroke="#000" stroke-width="0.15">3</text>
<text transform="translate(75.93 543.00) scale(1.1104 1)" font-family='"Liberation Sans", sans-serif' font-style="normal" font-size="18.10" fill="#000" stroke="#000" stroke-width="0.15">10.0</text>
<text transform="translate(146.21 543.00) scale(1.1121 1)" font-family='"Liberation Sans", sans-serif' font-style="normal" font-size="18.10" fill="#000" stroke="#000" stroke-width="0.15">10.5</text>
<text transform="translate(216.49 543.00) scale(1.1104 1)" font-family='"Liberation Sans", sans-serif' font-style="normal" font-size="18.10" fill="#000" stroke="#000" stroke-width="0.15">11.0</text>
<text transform="translate(300.83 543.00) scale(1.1104 1)" font-family='"Liberation Sans", sans-serif' font-style="normal" font-size="18.10" fill="#000" stroke="#000" stroke-width="0.15">10.0</text>
<text transform="translate(371.11 543.00) scale(1.1121 1)" font-family='"Liberation Sans", sans-serif' font-style="normal" font-size="18.10" fill="#000" stroke="#000" stroke-width="0.15">10.5</text>
<text transform="translate(441.39 543.00) scale(1.1104 1)" font-family='"Liberation Sans", sans-serif' font-style="normal" font-size="18.10" fill="#000" stroke="#000" stroke-width="0.15">11.0</text>
<text transform="translate(525.73 543.00) scale(1.1104 1)" font-family='"Liberation Sans", sans-serif' font-style="normal" font-size="18.10" fill="#000" stroke="#000" stroke-width="0.15">10.0</text>
<text transform="translate(596.01 543.00) scale(1.1121 1)" font-family='"Liberation Sans", sans-serif' font-style="normal" font-size="18.10" fill="#000" stroke="#000" stroke-width="0.15">10.5</text>
<text transform="translate(666.29 543.00) scale(1.1104 1)" font-family='"Liberation Sans", sans-serif' font-style="normal" font-size="18.10" fill="#000" stroke="#000" stroke-width="0.15">11.0</text>
<text transform="translate(94.97 19.70) scale(0.9926 1)" font-family='"Liberation Sans", sans-serif' font-style="normal" font-size="18.80" fill="#000" stroke="#000" stroke-width="0.15">0.1</text>
<text transform="translate(161.75 19.70) scale(1.0280 1)" font-family='"Liberation Sans", sans-serif' font-style="normal" font-size="18.80" fill="#000" stroke="#000" stroke-width="0.15">0.5</text>
<path d="M133.60 8.60L124.20 13.20L133.60 17.60M124.20 16.60L133.60 21.30" stroke="#000" stroke-width="1.15" fill="none"/>
<text transform="translate(136.61 19.70) scale(1.0938 1)" font-family='"Liberation Serif", serif' font-style="italic" font-size="17.00" fill="#000" stroke="#000" stroke-width="0.15">z</text>
<path d="M159.20 10.20L148.70 15.20L159.20 20.30" stroke="#000" stroke-width="1.15" fill="none"/>
<text transform="translate(319.72 19.70) scale(0.9874 1)" font-family='"Liberation Sans", sans-serif' font-style="normal" font-size="18.80" fill="#000" stroke="#000" stroke-width="0.15">0.5</text>
<text transform="translate(385.74 19.70) scale(1.0556 1)" font-family='"Liberation Sans", sans-serif' font-style="normal" font-size="18.80" fill="#000" stroke="#000" stroke-width="0.15">1.0</text>
<path d="M358.35 8.60L348.95 13.20L358.35 17.60M348.95 16.60L358.35 21.30" stroke="#000" stroke-width="1.15" fill="none"/>
<text transform="translate(361.36 19.70) scale(1.0938 1)" font-family='"Liberation Serif", serif' font-style="italic" font-size="17.00" fill="#000" stroke="#000" stroke-width="0.15">z</text>
<path d="M383.95 10.20L373.45 15.20L383.95 20.30" stroke="#000" stroke-width="1.15" fill="none"/>
<text transform="translate(543.85 19.70) scale(1.0138 1)" font-family='"Liberation Sans", sans-serif' font-style="normal" font-size="18.80" fill="#000" stroke="#000" stroke-width="0.15">1.0</text>
<text transform="translate(610.58 19.70) scale(1.0580 1)" font-family='"Liberation Sans", sans-serif' font-style="normal" font-size="18.80" fill="#000" stroke="#000" stroke-width="0.15">1.5</text>
<path d="M583.20 8.60L573.80 13.20L583.20 17.60M573.80 16.60L583.20 21.30" stroke="#000" stroke-width="1.15" fill="none"/>
<text transform="translate(586.21 19.70) scale(1.0938 1)" font-family='"Liberation Serif", serif' font-style="italic" font-size="17.00" fill="#000" stroke="#000" stroke-width="0.15">z</text>
<path d="M608.80 10.20L598.30 15.20L608.80 20.30" stroke="#000" stroke-width="1.15" fill="none"/>
<text transform="translate(94.24 280.70) scale(1.0162 1)" font-family='"Liberation Sans", sans-serif' font-style="normal" font-size="18.80" fill="#000" stroke="#000" stroke-width="0.15">1.5</text>
<text transform="translate(161.52 280.70) scale(1.0346 1)" font-family='"Liberation Sans", sans-serif' font-style="normal" font-size="18.80" fill="#000" stroke="#000" stroke-width="0.15">2.0</text>
<path d="M133.60 269.60L124.20 274.20L133.60 278.60M124.20 277.60L133.60 282.30" stroke="#000" stroke-width="1.15" fill="none"/>
<text transform="translate(136.61 280.70) scale(1.0938 1)" font-family='"Liberation Serif", serif' font-style="italic" font-size="17.00" fill="#000" stroke="#000" stroke-width="0.15">z</text>
<path d="M159.20 271.20L148.70 276.20L159.20 281.30" stroke="#000" stroke-width="1.15" fill="none"/>
<text transform="translate(319.51 280.70) scale(0.9937 1)" font-family='"Liberation Sans", sans-serif' font-style="normal" font-size="18.80" fill="#000" stroke="#000" stroke-width="0.15">2.0</text>
<text transform="translate(386.27 280.70) scale(1.0369 1)" font-family='"Liberation Sans", sans-serif' font-style="normal" font-size="18.80" fill="#000" stroke="#000" stroke-width="0.15">2.5</text>
<path d="M358.35 269.60L348.95 274.20L358.35 278.60M348.95 277.60L358.35 282.30" stroke="#000" stroke-width="1.15" fill="none"/>
<text transform="translate(361.36 280.70) scale(1.0938 1)" font-family='"Liberation Serif", serif' font-style="italic" font-size="17.00" fill="#000" stroke="#000" stroke-width="0.15">z</text>
<path d="M383.95 271.20L373.45 276.20L383.95 281.30" stroke="#000" stroke-width="1.15" fill="none"/>
<text transform="translate(544.36 280.70) scale(0.9959 1)" font-family='"Liberation Sans", sans-serif' font-style="normal" font-size="18.80" fill="#000" stroke="#000" stroke-width="0.15">2.5</text>
<text transform="translate(611.37 280.70) scale(1.0249 1)" font-family='"Liberation Sans", sans-serif' font-style="normal" font-size="18.80" fill="#000" stroke="#000" stroke-width="0.15">3.0</text>
<path d="M583.20 269.60L573.80 274.20L583.20 278.60M573.80 277.60L583.20 282.30" stroke="#000" stroke-width="1.15" fill="none"/>
<text transform="translate(586.21 280.70) scale(1.0938 1)" font-family='"Liberation Serif", serif' font-style="italic" font-size="17.00" fill="#000" stroke="#000" stroke-width="0.15">z</text>
<path d="M608.80 271.20L598.30 276.20L608.80 281.30" stroke="#000" stroke-width="1.15" fill="none"/>
<text transform="translate(73.17 247.90) scale(1.0400 1)" font-family='"Liberation Sans", sans-serif' font-style="normal" font-size="13.00" fill="#0000ff" stroke="#0000ff" stroke-width="0.15">1569</text>
<text transform="translate(129.49 247.90) scale(1.0400 1)" font-family='"Liberation Sans", sans-serif' font-style="normal" font-size="13.00" fill="#0000ff" stroke="#0000ff" stroke-width="0.15">1042</text>
<text transform="translate(189.41 247.90) scale(1.0400 1)" font-family='"Liberation Sans", sans-serif' font-style="normal" font-size="13.00" fill="#0000ff" stroke="#0000ff" stroke-width="0.15">560</text>
<text transform="translate(245.50 247.90) scale(1.0400 1)" font-family='"Liberation Sans", sans-serif' font-style="normal" font-size="13.00" fill="#0000ff" stroke="#0000ff" stroke-width="0.15">158</text>
<text transform="translate(77.13 257.30) scale(1.0400 1)" font-family='"Liberation Sans", sans-serif' font-style="normal" font-size="13.00" fill="#ff0000" stroke="#ff0000" stroke-width="0.15">595</text>
<text transform="translate(133.37 257.30) scale(1.0400 1)" font-family='"Liberation Sans", sans-serif' font-style="normal" font-size="13.00" fill="#ff0000" stroke="#ff0000" stroke-width="0.15">706</text>
<text transform="translate(189.45 257.30) scale(1.0400 1)" font-family='"Liberation Sans", sans-serif' font-style="normal" font-size="13.00" fill="#ff0000" stroke="#ff0000" stroke-width="0.15">516</text>
<text transform="translate(245.65 257.30) scale(1.0400 1)" font-family='"Liberation Sans", sans-serif' font-style="normal" font-size="13.00" fill="#ff0000" stroke="#ff0000" stroke-width="0.15">240</text>
<text transform="translate(421.73 238.10) scale(1.0400 1)" font-family='"Liberation Sans", sans-serif' font-style="normal" font-size="13.00" fill="#800080" stroke="#800080" stroke-width="0.15">3</text>
<text transform="translate(478.03 238.10) scale(1.0400 1)" font-family='"Liberation Sans", sans-serif' font-style="normal" font-size="13.00" fill="#800080" stroke="#800080" stroke-width="0.15">3</text>
<text transform="translate(298.16 247.90) scale(1.0400 1)" font-family='"Liberation Sans", sans-serif' font-style="normal" font-size="13.00" fill="#0000ff" stroke="#0000ff" stroke-width="0.15">5899</text>
<text transform="translate(354.49 247.90) scale(1.0400 1)" font-family='"Liberation Sans", sans-serif' font-style="normal" font-size="13.00" fill="#0000ff" stroke="#0000ff" stroke-width="0.15">3697</text>
<text transform="translate(410.19 247.90) scale(1.0400 1)" font-family='"Liberation Sans", sans-serif' font-style="normal" font-size="13.00" fill="#0000ff" stroke="#0000ff" stroke-width="0.15">1838</text>
<text transform="translate(470.61 247.90) scale(1.0400 1)" font-family='"Liberation Sans", sans-serif' font-style="normal" font-size="13.00" fill="#0000ff" stroke="#0000ff" stroke-width="0.15">456</text>
<text transform="translate(297.88 257.30) scale(1.0400 1)" font-family='"Liberation Sans", sans-serif' font-style="normal" font-size="13.00" fill="#ff0000" stroke="#ff0000" stroke-width="0.15">1335</text>
<text transform="translate(354.40 257.30) scale(1.0400 1)" font-family='"Liberation Sans", sans-serif' font-style="normal" font-size="13.00" fill="#ff0000" stroke="#ff0000" stroke-width="0.15">2311</text>
<text transform="translate(410.37 257.30) scale(1.0400 1)" font-family='"Liberation Sans", sans-serif' font-style="normal" font-size="13.00" fill="#ff0000" stroke="#ff0000" stroke-width="0.15">2306</text>
<text transform="translate(466.52 257.30) scale(1.0400 1)" font-family='"Liberation Sans", sans-serif' font-style="normal" font-size="13.00" fill="#ff0000" stroke="#ff0000" stroke-width="0.15">1299</text>
<text transform="translate(534.24 238.10) scale(1.0400 1)" font-family='"Liberation Sans", sans-serif' font-style="normal" font-size="13.00" fill="#800080" stroke="#800080" stroke-width="0.15">0</text>
<text transform="translate(590.58 238.10) scale(1.0400 1)" font-family='"Liberation Sans", sans-serif' font-style="normal" font-size="13.00" fill="#800080" stroke="#800080" stroke-width="0.15">4</text>
<text transform="translate(642.55 238.10) scale(1.0400 1)" font-family='"Liberation Sans", sans-serif' font-style="normal" font-size="13.00" fill="#800080" stroke="#800080" stroke-width="0.15">15</text>
<text transform="translate(698.86 238.10) scale(1.0400 1)" font-family='"Liberation Sans", sans-serif' font-style="normal" font-size="13.00" fill="#800080" stroke="#800080" stroke-width="0.15">16</text>
<text transform="translate(522.96 247.90) scale(1.0400 1)" font-family='"Liberation Sans", sans-serif' font-style="normal" font-size="13.00" fill="#0000ff" stroke="#0000ff" stroke-width="0.15">8373</text>
<text transform="translate(579.30 247.90) scale(1.0400 1)" font-family='"Liberation Sans", sans-serif' font-style="normal" font-size="13.00" fill="#0000ff" stroke="#0000ff" stroke-width="0.15">4994</text>
<text transform="translate(635.26 247.90) scale(1.0400 1)" font-family='"Liberation Sans", sans-serif' font-style="normal" font-size="13.00" fill="#0000ff" stroke="#0000ff" stroke-width="0.15">2672</text>
<text transform="translate(695.27 247.90) scale(1.0400 1)" font-family='"Liberation Sans", sans-serif' font-style="normal" font-size="13.00" fill="#0000ff" stroke="#0000ff" stroke-width="0.15">736</text>
<text transform="translate(526.72 257.30) scale(1.0400 1)" font-family='"Liberation Sans", sans-serif' font-style="normal" font-size="13.00" fill="#ff0000" stroke="#ff0000" stroke-width="0.15">647</text>
<text transform="translate(579.01 257.30) scale(1.0400 1)" font-family='"Liberation Sans", sans-serif' font-style="normal" font-size="13.00" fill="#ff0000" stroke="#ff0000" stroke-width="0.15">1280</text>
<text transform="translate(635.01 257.30) scale(1.0400 1)" font-family='"Liberation Sans", sans-serif' font-style="normal" font-size="13.00" fill="#ff0000" stroke="#ff0000" stroke-width="0.15">1700</text>
<text transform="translate(695.35 257.30) scale(1.0400 1)" font-family='"Liberation Sans", sans-serif' font-style="normal" font-size="13.00" fill="#ff0000" stroke="#ff0000" stroke-width="0.15">899</text>
<text transform="translate(140.94 427.80) scale(1.0400 1)" font-family='"Liberation Sans", sans-serif' font-style="normal" font-size="13.00" fill="#800080" stroke="#800080" stroke-width="0.15">9</text>
<text transform="translate(193.12 427.80) scale(1.0400 1)" font-family='"Liberation Sans", sans-serif' font-style="normal" font-size="13.00" fill="#800080" stroke="#800080" stroke-width="0.15">25</text>
<text transform="translate(249.31 427.80) scale(1.0400 1)" font-family='"Liberation Sans", sans-serif' font-style="normal" font-size="13.00" fill="#800080" stroke="#800080" stroke-width="0.15">12</text>
<text transform="translate(129.85 437.50) scale(1.0400 1)" font-family='"Liberation Sans", sans-serif' font-style="normal" font-size="13.00" fill="#0000ff" stroke="#0000ff" stroke-width="0.15">4482</text>
<text transform="translate(185.62 437.50) scale(1.0400 1)" font-family='"Liberation Sans", sans-serif' font-style="normal" font-size="13.00" fill="#0000ff" stroke="#0000ff" stroke-width="0.15">2653</text>
<text transform="translate(245.75 437.50) scale(1.0400 1)" font-family='"Liberation Sans", sans-serif' font-style="normal" font-size="13.00" fill="#0000ff" stroke="#0000ff" stroke-width="0.15">869</text>
<text transform="translate(133.55 447.20) scale(1.0400 1)" font-family='"Liberation Sans", sans-serif' font-style="normal" font-size="13.00" fill="#ff0000" stroke="#ff0000" stroke-width="0.15">435</text>
<text transform="translate(189.43 447.20) scale(1.0400 1)" font-family='"Liberation Sans", sans-serif' font-style="normal" font-size="13.00" fill="#ff0000" stroke="#ff0000" stroke-width="0.15">555</text>
<text transform="translate(245.75 447.20) scale(1.0400 1)" font-family='"Liberation Sans", sans-serif' font-style="normal" font-size="13.00" fill="#ff0000" stroke="#ff0000" stroke-width="0.15">355</text>
<text transform="translate(417.88 427.80) scale(1.0400 1)" font-family='"Liberation Sans", sans-serif' font-style="normal" font-size="13.00" fill="#800080" stroke="#800080" stroke-width="0.15">28</text>
<text transform="translate(474.21 427.80) scale(1.0400 1)" font-family='"Liberation Sans", sans-serif' font-style="normal" font-size="13.00" fill="#800080" stroke="#800080" stroke-width="0.15">29</text>
<text transform="translate(410.19 437.50) scale(1.0400 1)" font-family='"Liberation Sans", sans-serif' font-style="normal" font-size="13.00" fill="#0000ff" stroke="#0000ff" stroke-width="0.15">1678</text>
<text transform="translate(470.33 437.50) scale(1.0400 1)" font-family='"Liberation Sans", sans-serif' font-style="normal" font-size="13.00" fill="#0000ff" stroke="#0000ff" stroke-width="0.15">624</text>
<text transform="translate(414.18 447.20) scale(1.0400 1)" font-family='"Liberation Sans", sans-serif' font-style="normal" font-size="13.00" fill="#ff0000" stroke="#ff0000" stroke-width="0.15">310</text>
<text transform="translate(470.25 447.20) scale(1.0400 1)" font-family='"Liberation Sans", sans-serif' font-style="normal" font-size="13.00" fill="#ff0000" stroke="#ff0000" stroke-width="0.15">193</text>
<text transform="translate(698.76 427.80) scale(1.0400 1)" font-family='"Liberation Sans", sans-serif' font-style="normal" font-size="13.00" fill="#800080" stroke="#800080" stroke-width="0.15">14</text>
<text transform="translate(639.01 437.50) scale(1.0400 1)" font-family='"Liberation Sans", sans-serif' font-style="normal" font-size="13.00" fill="#0000ff" stroke="#0000ff" stroke-width="0.15">885</text>
<text transform="translate(695.39 437.50) scale(1.0400 1)" font-family='"Liberation Sans", sans-serif' font-style="normal" font-size="13.00" fill="#0000ff" stroke="#0000ff" stroke-width="0.15">321</text>
<text transform="translate(699.03 447.20) scale(1.0400 1)" font-family='"Liberation Sans", sans-serif' font-style="normal" font-size="13.00" fill="#ff0000" stroke="#ff0000" stroke-width="0.15">63</text>
<text transform="translate(276.30 574.20) scale(1.1548 1)" font-family='"Liberation Sans", sans-serif' font-style="normal" font-size="20.60" fill="#000" stroke="#000" stroke-width="0.15">log(Stellar</text>
<text transform="translate(389.18 574.20) scale(1.0795 1)" font-family='"Liberation Sans", sans-serif' font-style="normal" font-size="20.60" fill="#000" stroke="#000" stroke-width="0.15">Mass</text>
<text transform="translate(448.02 574.20) scale(1.0748 1)" font-family='"Liberation Sans", sans-serif' font-style="normal" font-size="20.60" fill="#000" stroke="#000" stroke-width="0.15">[</text>
<text transform="translate(457.86 574.00) scale(1.1228 1)" font-family='"Liberation Serif", serif' font-style="italic" font-size="20.00" fill="#000" stroke="#000" stroke-width="0.15">M</text>
<circle cx="485.0" cy="576.0" r="4.5" fill="none" stroke="#000" stroke-width="1.0"/><circle cx="485.0" cy="576.0" r="1.2" fill="#000"/>
<text transform="translate(493.49 574.20) scale(0.7084 1)" font-family='"Liberation Sans", sans-serif' font-style="normal" font-size="20.60" fill="#000" stroke="#000" stroke-width="0.15">]</text>
<text transform="translate(501.42 574.20) scale(0.6591 1)" font-family='"Liberation Sans", sans-serif' font-style="normal" font-size="20.60" fill="#000" stroke="#000" stroke-width="0.15">)</text>
<g transform="translate(18.8 442.9) rotate(-90)"><text transform="translate(-1.57 0.00) scale(1.1310 1)" font-family='"Liberation Sans", sans-serif' font-style="normal" font-size="20.60" fill="#000" stroke="#000" stroke-width="0.15">log(Star Formation Rate [</text><text transform="translate(264.16 0.00) scale(1.1060 1)" font-family='"Liberation Serif", serif' font-style="italic" font-size="20.00" fill="#000" stroke="#000" stroke-width="0.15">M</text><circle cx="291.0" cy="1.6" r="4.5" fill="none" stroke="#000" stroke-width="1.0"/><circle cx="291.0" cy="1.6" r="1.2" fill="#000"/><text transform="translate(305.44 0.00) scale(1.1391 1)" font-family='"Liberation Sans", sans-serif' font-style="normal" font-size="20.60" fill="#000" stroke="#000" stroke-width="0.15">yr</text><rect x="327.0" y="-13.2" width="8.4" height="1.1" fill="#000"/><text transform="translate(337.75 -9.20) scale(0.5908 1)" font-family='"Liberation Serif", serif' font-style="normal" font-size="12.50" fill="#000" stroke="#000" stroke-width="0.15">1</text><text transform="translate(349.78 0.00) scale(0.7328 1)" font-family='"Liberation Sans", sans-serif' font-style="normal" font-size="20.60" fill="#000" stroke="#000" stroke-width="0.15">]</text><text transform="translate(357.82 0.00) scale(0.6225 1)" font-family='"Liberation Sans", sans-serif' font-style="normal" font-size="20.60" fill="#000" stroke="#000" stroke-width="0.15">)</text></g>
<rect x="399.8" y="476.8" width="334.1" height="38.8" fill="#fff" stroke="#000" stroke-width="1.5"/>
<line x1="404.7" y1="486.4" x2="431.3" y2="486.4" stroke="#7a7a7a" stroke-width="1.5"/>
<text transform="translate(440.58 491.70) scale(1.0086 1)" font-family='"Liberation Sans", sans-serif' font-style="normal" font-size="13.60" fill="#000" stroke="#000" stroke-width="0.15">SFG: Speagle+14</text>
<text transform="translate(439.91 508.60) scale(1.0269 1)" font-family='"Liberation Sans", sans-serif' font-style="normal" font-size="13.60" fill="#000" stroke="#000" stroke-width="0.15">IR-bright QG: Herschel</text>
<text transform="translate(641.56 491.70) scale(0.9972 1)" font-family='"Liberation Sans", sans-serif' font-style="normal" font-size="13.60" fill="#000" stroke="#000" stroke-width="0.15">QG: Herschel</text>
<text transform="translate(641.59 508.60) scale(0.9857 1)" font-family='"Liberation Sans", sans-serif' font-style="normal" font-size="13.60" fill="#000" stroke="#000" stroke-width="0.15">SFG: Herschel</text>
<path d="M410.40 504.40H425.40M417.90 496.90V511.90" stroke="rgb(128,0,128)" stroke-width="1.4" opacity="0.6"/><circle cx="417.90" cy="504.40" r="7.50" fill="rgb(128,0,128)" fill-opacity="0.52" stroke="#000" stroke-width="1.0" stroke-opacity="0.45"/>
<path d="M611.20 486.60H626.20M618.70 479.10V494.10" stroke="rgb(255,0,0)" stroke-width="1.4" opacity="0.6"/><circle cx="618.70" cy="486.60" r="7.50" fill="rgb(255,0,0)" fill-opacity="0.52" stroke="#000" stroke-width="1.0" stroke-opacity="0.45"/>
<path d="M611.20 504.60H626.20M618.70 497.10V512.10" stroke="rgb(0,0,255)" stroke-width="1.4" opacity="0.6"/><circle cx="618.70" cy="504.60" r="7.50" fill="rgb(0,0,255)" fill-opacity="0.52" stroke="#000" stroke-width="1.0" stroke-opacity="0.45"/>
</svg>
</body></html>
